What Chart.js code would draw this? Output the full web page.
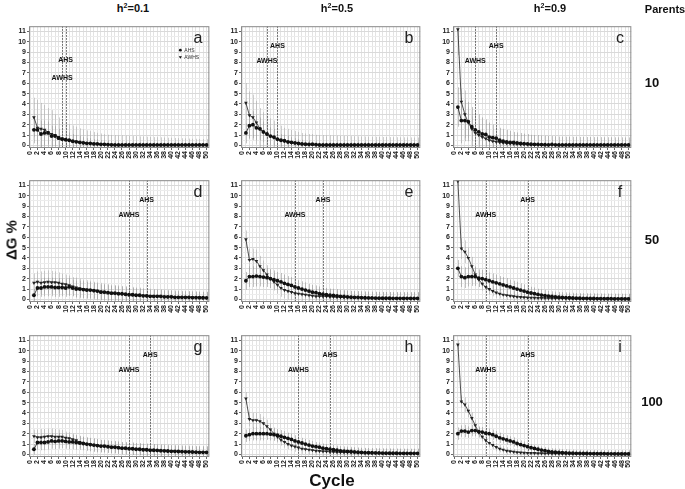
<!DOCTYPE html>
<html>
<head>
<meta charset="utf-8">
<script src="https://cdn.jsdelivr.net/npm/chart.js@4"></script>
<style>
body { margin: 0; width: 685px; height: 489px; position: relative; overflow: hidden; background: #fff; font-family: "Liberation Sans", Arial, sans-serif; color: #111; }
canvas { position: absolute; }
.t { position: absolute; transform: translate(-50%, -50%); white-space: nowrap; font-weight: bold; }
.head { font-size: 11px; }
.row { font-size: 13px; }
.letter { position: absolute; transform: translate(-50%, -50%); font-size: 16px; color: #222; }
sup { font-size: 7px; }
</style>
</head>
<body>
<script>
// x values
const cycles = [1,2,3,4,5,6,7,8,9,10,11,12,13,14,15,16,17,18,19,20,21,22,23,24,25,26,27,28,29,30,31,32,33,34,35,36,37,38,39,40,41,42,43,44,45,46,47,48,49,50];

const heritability = ["0.1", "0.5", "0.9"];
const parents = ["10", "50", "100"];
const letters = ["a", "b", "c", "d", "e", "f", "g", "h", "i"];

// cycle where each method reached its limit (dotted lines)
const awhsCycle = [9, 7, 6, 28, 15, 9, 28, 16, 9];
const ahsCycle = [10, 10, 12, 33, 23, 21, 34, 25, 21];

// a: h2=0.1, 10 parents
const aAhs = [1.5,1.5,1.1,1.2,1.2,0.9,0.9,0.7,0.6,0.55,0.5,0.4,0.35,0.3,0.25,0.2,0.2,0.15,0.15,0.1,0.1,0.08,0.06,0.05,0.05,0.05,0.05,0.05,0.05,0.05,0.05,0.05,0.05,0.05,0.05,0.05,0.05,0.05,0.05,0.05,0.05,0.05,0.05,0.05,0.05,0.05,0.05,0.05,0.05,0.05];
const aAwhs = [2.7,1.7,1.6,1.5,1.3,1.1,1.0,0.8,0.65,0.55,0.5,0.42,0.36,0.3,0.25,0.2,0.18,0.15,0.12,0.1,0.08,0.06,0.05,0.04,0.04,0.04,0.04,0.04,0.04,0.04,0.04,0.04,0.04,0.04,0.04,0.04,0.04,0.04,0.04,0.04,0.04,0.04,0.04,0.04,0.04,0.04,0.04,0.04,0.04,0.04];
const aAhsSd = [1.3,1.4,1.3,1.2,1.1,1.0,0.95,0.9,0.85,0.8,0.75,0.7,0.65,0.6,0.55,0.5,0.5,0.45,0.45,0.4,0.4,0.38,0.36,0.35,0.34,0.33,0.32,0.31,0.3,0.3,0.29,0.28,0.28,0.27,0.27,0.26,0.26,0.25,0.25,0.25,0.24,0.24,0.23,0.23,0.22,0.22,0.22,0.21,0.21,0.2];
const aAwhsSd = [1.9,2.7,2.5,2.4,2.3,2.3,2.0,1.9,1.8,1.6,1.55,1.5,1.45,1.35,1.3,1.25,1.2,1.15,1.1,1.05,1.0,0.97,0.95,0.94,0.93,0.92,0.9,0.88,0.86,0.85,0.83,0.82,0.8,0.78,0.76,0.75,0.74,0.72,0.7,0.7,0.68,0.66,0.65,0.64,0.62,0.6,0.6,0.58,0.57,0.56];

// b: h2=0.5, 10 parents
const bAhs = [1.2,1.9,2.0,1.7,1.6,1.3,1.1,0.9,0.8,0.6,0.5,0.45,0.35,0.3,0.25,0.2,0.15,0.12,0.1,0.1,0.08,0.05,0.04,0.04,0.04,0.04,0.04,0.04,0.04,0.04,0.04,0.04,0.04,0.04,0.04,0.04,0.04,0.04,0.04,0.04,0.04,0.04,0.04,0.04,0.04,0.04,0.04,0.04,0.04,0.04];
const bAwhs = [4.1,2.9,2.7,2.2,1.6,1.3,1.1,0.9,0.75,0.6,0.5,0.4,0.3,0.25,0.2,0.15,0.1,0.1,0.08,0.15,0.05,0.03,0.03,0.03,0.03,0.03,0.03,0.03,0.03,0.03,0.03,0.03,0.03,0.03,0.03,0.03,0.03,0.03,0.03,0.03,0.03,0.03,0.03,0.03,0.03,0.03,0.03,0.03,0.03,0.03];
const bAhsSd = [1.0,1.2,1.3,1.2,1.1,1.0,0.9,0.85,0.8,0.7,0.6,0.6,0.55,0.5,0.45,0.4,0.4,0.35,0.35,0.3,0.3,0.3,0.3,0.3,0.3,0.3,0.3,0.3,0.3,0.3,0.3,0.3,0.3,0.3,0.3,0.3,0.3,0.3,0.3,0.3,0.3,0.3,0.3,0.3,0.3,0.3,0.3,0.3,0.3,0.3];
const bAwhsSd = [1.9,2.3,2.2,2.1,2.0,1.9,1.8,1.7,1.65,1.5,1.4,1.3,1.3,1.25,1.2,1.15,1.1,1.05,1.02,0.95,0.97,0.96,0.95,0.94,0.93,0.92,0.9,0.89,0.88,0.87,0.86,0.85,0.84,0.83,0.82,0.81,0.8,0.8,0.79,0.78,0.78,0.77,0.76,0.76,0.75,0.75,0.74,0.74,0.73,0.73];

// c: h2=0.9, 10 parents
const cAhs = [3.7,2.4,2.4,2.3,1.8,1.5,1.3,1.1,1.05,0.8,0.75,0.7,0.5,0.4,0.35,0.3,0.3,0.25,0.2,0.18,0.15,0.12,0.1,0.1,0.08,0.07,0.06,0.1,0.06,0.05,0.05,0.05,0.05,0.05,0.05,0.05,0.05,0.05,0.05,0.05,0.05,0.05,0.05,0.05,0.05,0.05,0.05,0.05,0.05,0.05];
const cAwhs = [11.2,4.2,3.0,2.2,1.6,1.2,1.0,0.8,0.65,0.5,0.4,0.35,0.3,0.25,0.2,0.18,0.15,0.12,0.1,0.1,0.08,0.06,0.05,0.04,0.04,0.04,0.04,0.04,0.04,0.04,0.04,0.04,0.04,0.04,0.04,0.04,0.04,0.04,0.04,0.04,0.04,0.04,0.04,0.04,0.04,0.04,0.04,0.04,0.04,0.04];
const cAhsSd = [1.9,2.2,2.0,1.9,1.9,1.8,1.7,1.6,1.45,1.4,1.25,1.1,1.2,1.2,1.15,1.1,1.0,1.0,1.0,0.95,0.95,0.9,0.9,0.88,0.87,0.86,0.85,0.8,0.82,0.8,0.8,0.79,0.79,0.78,0.78,0.77,0.77,0.76,0.76,0.75,0.75,0.75,0.74,0.74,0.74,0.73,0.73,0.73,0.72,0.72];
const cAwhsSd = [2.5,1.3,2.3,1.5,1.2,1.0,0.9,0.8,0.7,0.6,0.55,0.5,0.45,0.4,0.4,0.35,0.35,0.3,0.3,0.3,0.3,0.3,0.3,0.3,0.3,0.3,0.3,0.3,0.3,0.3,0.3,0.3,0.3,0.3,0.3,0.3,0.3,0.3,0.3,0.3,0.3,0.3,0.3,0.3,0.3,0.3,0.3,0.3,0.3,0.3];

// d: h2=0.1, 50 parents
const dAhs = [0.4,1.1,1.1,1.2,1.2,1.2,1.15,1.15,1.15,1.1,1.2,1.1,1.0,1.0,0.95,0.9,0.9,0.85,0.8,0.7,0.7,0.65,0.6,0.6,0.55,0.55,0.5,0.45,0.45,0.4,0.4,0.35,0.35,0.3,0.3,0.3,0.3,0.25,0.25,0.25,0.2,0.2,0.2,0.2,0.2,0.18,0.18,0.17,0.16,0.15];
const dAwhs = [1.6,1.7,1.6,1.65,1.7,1.65,1.65,1.6,1.5,1.45,1.35,1.25,1.15,1.05,1.0,0.95,0.9,0.85,0.8,0.75,0.7,0.65,0.6,0.58,0.55,0.5,0.5,0.45,0.45,0.4,0.4,0.36,0.35,0.32,0.3,0.3,0.28,0.26,0.25,0.24,0.22,0.21,0.2,0.2,0.19,0.18,0.17,0.16,0.15,0.14];
const dAhsSd = [0.6,0.8,0.85,0.9,0.9,0.9,0.9,0.9,0.85,0.85,0.85,0.8,0.8,0.8,0.8,0.78,0.77,0.76,0.75,0.74,0.73,0.72,0.71,0.7,0.7,0.69,0.68,0.67,0.66,0.65,0.65,0.64,0.63,0.62,0.62,0.61,0.6,0.6,0.59,0.59,0.58,0.58,0.57,0.57,0.56,0.56,0.55,0.55,0.55,0.55];
const dAwhsSd = [0.9,1.0,1.1,1.1,1.1,1.1,1.05,1.0,1.0,0.95,0.95,0.9,0.95,0.95,0.9,0.9,0.9,0.85,0.85,0.85,0.84,0.83,0.82,0.81,0.8,0.8,0.78,0.77,0.76,0.75,0.74,0.73,0.72,0.71,0.7,0.69,0.68,0.67,0.66,0.65,0.65,0.64,0.63,0.63,0.62,0.62,0.61,0.61,0.6,0.6];

// e: h2=0.5, 50 parents
const eAhs = [1.8,2.2,2.2,2.25,2.2,2.15,2.1,2.0,1.9,1.8,1.7,1.55,1.45,1.35,1.2,1.1,1.0,0.9,0.8,0.7,0.65,0.55,0.5,0.45,0.4,0.38,0.35,0.3,0.28,0.25,0.22,0.2,0.2,0.18,0.16,0.15,0.14,0.13,0.12,0.12,0.11,0.11,0.1,0.1,0.1,0.1,0.1,0.1,0.1,0.1];
const eAwhs = [5.8,3.8,3.9,3.7,3.2,2.8,2.4,2.0,1.7,1.4,1.1,0.9,0.8,0.7,0.6,0.55,0.5,0.45,0.4,0.35,0.3,0.3,0.3,0.28,0.25,0.23,0.21,0.2,0.19,0.18,0.17,0.16,0.15,0.14,0.13,0.12,0.12,0.11,0.11,0.1,0.1,0.1,0.09,0.09,0.08,0.08,0.08,0.07,0.07,0.07];
const eAhsSd = [0.85,1.0,1.0,1.0,0.95,0.95,0.9,0.9,0.9,0.85,0.85,0.85,0.8,0.8,0.8,0.75,0.75,0.75,0.7,0.7,0.7,0.7,0.68,0.66,0.65,0.65,0.64,0.63,0.62,0.62,0.61,0.6,0.6,0.6,0.6,0.6,0.6,0.6,0.6,0.6,0.6,0.6,0.6,0.6,0.6,0.6,0.6,0.6,0.6,0.6];
const eAwhsSd = [0.85,1.1,1.0,1.1,1.0,0.95,0.9,0.9,0.85,0.85,0.85,0.8,0.8,0.75,0.75,0.7,0.7,0.7,0.68,0.68,0.67,0.66,0.66,0.65,0.65,0.65,0.65,0.64,0.64,0.64,0.63,0.63,0.63,0.62,0.62,0.62,0.62,0.62,0.61,0.61,0.61,0.61,0.6,0.6,0.6,0.6,0.6,0.6,0.6,0.6];

// f: h2=0.9, 50 parents
const fAhs = [3.0,2.2,2.1,2.2,2.2,2.2,2.05,2.0,1.9,1.8,1.7,1.6,1.5,1.4,1.3,1.2,1.1,1.0,0.9,0.8,0.7,0.62,0.55,0.48,0.42,0.37,0.32,0.28,0.25,0.22,0.2,0.18,0.16,0.14,0.12,0.11,0.1,0.1,0.09,0.09,0.08,0.08,0.07,0.07,0.07,0.06,0.06,0.06,0.05,0.05];
const fAwhs = [11.4,4.9,4.6,4.0,3.2,2.4,1.9,1.5,1.2,1.0,0.8,0.65,0.55,0.45,0.4,0.35,0.3,0.25,0.22,0.2,0.18,0.16,0.15,0.14,0.13,0.12,0.11,0.1,0.1,0.09,0.09,0.08,0.08,0.07,0.07,0.07,0.06,0.06,0.06,0.06,0.05,0.05,0.05,0.05,0.05,0.05,0.05,0.05,0.05,0.05];
const fAhsSd = [0.8,1.0,1.0,0.95,0.9,0.9,0.85,0.85,0.8,0.8,0.8,0.8,0.75,0.75,0.75,0.7,0.7,0.7,0.65,0.65,0.6,0.6,0.6,0.55,0.55,0.55,0.5,0.5,0.5,0.5,0.5,0.5,0.5,0.5,0.5,0.5,0.5,0.5,0.5,0.5,0.5,0.5,0.5,0.5,0.5,0.5,0.5,0.5,0.5,0.5];
const fAwhsSd = [0.4,1.0,1.1,1.0,0.9,0.8,0.7,0.65,0.6,0.55,0.5,0.5,0.45,0.45,0.45,0.45,0.45,0.45,0.45,0.45,0.45,0.45,0.45,0.45,0.45,0.45,0.45,0.45,0.45,0.45,0.45,0.45,0.45,0.45,0.45,0.45,0.45,0.45,0.45,0.45,0.45,0.45,0.45,0.45,0.45,0.45,0.45,0.45,0.45,0.45];

// g: h2=0.1, 100 parents
const gAhs = [0.5,1.15,1.15,1.15,1.2,1.3,1.25,1.3,1.3,1.25,1.2,1.2,1.15,1.1,1.05,1.0,0.95,0.9,0.85,0.8,0.8,0.75,0.7,0.7,0.65,0.6,0.6,0.55,0.55,0.5,0.5,0.45,0.45,0.4,0.4,0.38,0.36,0.35,0.33,0.3,0.3,0.28,0.27,0.25,0.25,0.23,0.22,0.2,0.2,0.2];
const gAwhs = [1.75,1.65,1.65,1.7,1.75,1.75,1.7,1.7,1.7,1.6,1.55,1.45,1.35,1.2,1.1,1.0,0.95,0.9,0.85,0.8,0.78,0.74,0.7,0.68,0.64,0.6,0.58,0.55,0.52,0.5,0.48,0.46,0.44,0.42,0.4,0.38,0.36,0.34,0.32,0.3,0.3,0.28,0.26,0.25,0.24,0.23,0.22,0.21,0.2,0.2];
const gAhsSd = [0.5,0.7,0.75,0.75,0.75,0.75,0.75,0.75,0.7,0.7,0.7,0.7,0.7,0.65,0.65,0.65,0.65,0.65,0.65,0.6,0.6,0.6,0.6,0.6,0.6,0.6,0.6,0.6,0.6,0.6,0.6,0.6,0.6,0.6,0.6,0.6,0.6,0.6,0.6,0.6,0.6,0.6,0.6,0.6,0.6,0.6,0.6,0.6,0.6,0.6];
const gAwhsSd = [0.65,0.75,0.8,0.75,0.75,0.75,0.75,0.7,0.65,0.6,0.6,0.55,0.55,0.6,0.6,0.6,0.6,0.6,0.6,0.6,0.58,0.58,0.57,0.57,0.56,0.56,0.55,0.55,0.55,0.55,0.54,0.54,0.53,0.53,0.52,0.52,0.52,0.51,0.51,0.5,0.5,0.5,0.5,0.5,0.5,0.5,0.5,0.5,0.5,0.5];

// h: h2=0.5, 100 parents
const hAhs = [1.8,1.9,2.0,2.0,2.0,2.0,2.0,1.95,1.9,1.85,1.75,1.65,1.55,1.45,1.3,1.2,1.1,1.0,0.9,0.8,0.75,0.7,0.6,0.55,0.5,0.45,0.4,0.35,0.32,0.3,0.28,0.25,0.22,0.2,0.18,0.17,0.16,0.15,0.14,0.13,0.12,0.12,0.11,0.11,0.1,0.1,0.1,0.1,0.1,0.1];
const hAwhs = [5.4,3.4,3.3,3.3,3.2,3.0,2.7,2.4,2.0,1.7,1.4,1.2,1.0,0.85,0.75,0.65,0.55,0.5,0.45,0.4,0.35,0.32,0.3,0.28,0.25,0.23,0.21,0.2,0.19,0.18,0.17,0.16,0.15,0.14,0.13,0.12,0.12,0.11,0.11,0.1,0.1,0.1,0.1,0.09,0.09,0.09,0.08,0.08,0.08,0.08];
const hAhsSd = [0.6,0.6,0.65,0.65,0.65,0.65,0.6,0.6,0.6,0.6,0.6,0.6,0.55,0.55,0.55,0.55,0.5,0.5,0.5,0.5,0.45,0.45,0.45,0.45,0.45,0.45,0.45,0.45,0.45,0.45,0.45,0.45,0.45,0.45,0.45,0.45,0.45,0.45,0.45,0.45,0.45,0.45,0.45,0.45,0.45,0.45,0.45,0.45,0.45,0.45];
const hAwhsSd = [0.6,0.7,0.7,0.7,0.7,0.65,0.65,0.6,0.6,0.55,0.55,0.55,0.5,0.5,0.5,0.5,0.5,0.45,0.45,0.45,0.45,0.45,0.45,0.45,0.45,0.45,0.45,0.45,0.45,0.45,0.45,0.45,0.45,0.45,0.45,0.45,0.45,0.45,0.45,0.45,0.45,0.45,0.45,0.45,0.45,0.45,0.45,0.45,0.45,0.45];

// i: h2=0.9, 100 parents
const iAhs = [2.0,2.25,2.25,2.15,2.3,2.3,2.2,2.15,2.05,2.0,1.9,1.75,1.6,1.5,1.4,1.3,1.2,1.05,0.95,0.85,0.75,0.65,0.58,0.5,0.42,0.36,0.3,0.25,0.22,0.2,0.17,0.15,0.13,0.12,0.1,0.1,0.09,0.09,0.08,0.08,0.07,0.07,0.07,0.06,0.06,0.06,0.05,0.05,0.05,0.05];
const iAwhs = [10.6,5.1,4.8,4.2,3.5,2.8,2.1,1.7,1.35,1.1,0.9,0.7,0.55,0.45,0.35,0.3,0.25,0.2,0.18,0.15,0.14,0.13,0.12,0.1,0.1,0.09,0.09,0.08,0.08,0.07,0.07,0.07,0.06,0.06,0.06,0.06,0.05,0.05,0.05,0.05,0.05,0.05,0.05,0.05,0.05,0.05,0.05,0.05,0.05,0.05];
const iAhsSd = [0.6,0.55,0.6,0.55,0.55,0.55,0.5,0.5,0.5,0.5,0.5,0.5,0.5,0.45,0.45,0.45,0.45,0.4,0.4,0.4,0.35,0.35,0.35,0.35,0.35,0.35,0.35,0.35,0.35,0.35,0.35,0.35,0.35,0.35,0.35,0.35,0.35,0.35,0.35,0.35,0.35,0.35,0.35,0.35,0.35,0.35,0.35,0.35,0.35,0.35];
const iAwhsSd = [0.45,0.6,0.7,0.6,0.55,0.5,0.5,0.45,0.45,0.4,0.4,0.4,0.35,0.35,0.35,0.3,0.3,0.3,0.3,0.3,0.3,0.3,0.3,0.3,0.3,0.3,0.3,0.3,0.3,0.3,0.3,0.3,0.3,0.3,0.3,0.3,0.3,0.3,0.3,0.3,0.3,0.3,0.3,0.3,0.3,0.3,0.3,0.3,0.3,0.3];

const panels = [
    [aAhs, aAwhs, aAhsSd, aAwhsSd],
    [bAhs, bAwhs, bAhsSd, bAwhsSd],
    [cAhs, cAwhs, cAhsSd, cAwhsSd],
    [dAhs, dAwhs, dAhsSd, dAwhsSd],
    [eAhs, eAwhs, eAhsSd, eAwhsSd],
    [fAhs, fAwhs, fAhsSd, fAwhsSd],
    [gAhs, gAwhs, gAhsSd, gAwhsSd],
    [hAhs, hAwhs, hAhsSd, hAwhsSd],
    [iAhs, iAwhs, iAhsSd, iAwhsSd]
];

// layout (plot area of every panel, px)
const colLeft = [29, 241, 453];
const colWidth = [184, 183, 182];
const rowTop = [23, 177, 332];
const plotH = 125;
const AXW = 16, AXH = 16, PADT = 2, PADR = 3;
const FONT = '"Liberation Sans", Arial, sans-serif';

function addText(html, x, y, cls, extra) {
    const d = document.createElement("div");
    d.className = cls;
    d.innerHTML = html;
    d.style.left = x + "px";
    d.style.top = y + "px";
    if (extra) Object.assign(d.style, extra);
    document.body.appendChild(d);
}

// overlay: error bars, limit lines, frame, legend
function overlay(k) {
    return {
        id: "overlay" + k,
        beforeDatasetsDraw(chart) {
            const { ctx, chartArea: a, scales: { x, y } } = chart;
            ctx.save();
            ctx.beginPath();
            ctx.rect(a.left, a.top, a.right - a.left, a.bottom - a.top);
            ctx.clip();
            ctx.lineWidth = 1;
            chart.data.datasets.forEach((ds, i) => {
                ctx.strokeStyle = i === 0 ? "rgba(120,120,120,0.45)" : "rgba(160,160,160,0.5)";
                const meta = chart.getDatasetMeta(i);
                meta.data.forEach((pt, j) => {
                    const m = ds.data[j].y, s = ds.sd[j];
                    const px = Math.round(pt.x) + 0.5;
                    ctx.beginPath();
                    ctx.moveTo(px, y.getPixelForValue(m - s));
                    ctx.lineTo(px, y.getPixelForValue(m + s));
                    ctx.stroke();
                });
            });
            // dotted limit lines
            ctx.strokeStyle = "#555";
            ctx.setLineDash([1.5, 1.5]);
            [awhsCycle[k], ahsCycle[k]].forEach(c => {
                const px = Math.round(x.getPixelForValue(c)) + 0.5;
                ctx.beginPath();
                ctx.moveTo(px, a.top);
                ctx.lineTo(px, a.bottom);
                ctx.stroke();
            });
            ctx.restore();
        },
        afterDraw(chart) {
            const { ctx, chartArea: a, scales: { x, y } } = chart;
            ctx.save();
            ctx.strokeStyle = "#8a8a8a";
            ctx.lineWidth = 1;
            ctx.strokeRect(a.left + 0.5, a.top + 0.5, a.right - a.left - 1, a.bottom - a.top - 1);
            ctx.fillStyle = "#111";
            ctx.font = "bold 7px " + FONT;
            ctx.textAlign = "center";
            ctx.textBaseline = "middle";
            const ahsY = k === 0 ? 8.2 : 9.6, awhsY = k === 0 ? 6.5 : 8.1;
            ctx.fillText("AHS", x.getPixelForValue(ahsCycle[k]), y.getPixelForValue(ahsY));
            ctx.fillText("AWHS", x.getPixelForValue(awhsCycle[k]), y.getPixelForValue(awhsY));
            if (k === 0) {
                // small legend in the first panel
                const lx = a.right - 29, ly = a.top + 24;
                ctx.beginPath();
                ctx.arc(lx, ly, 1.4, 0, Math.PI * 2);
                ctx.fill();
                ctx.beginPath();
                ctx.moveTo(lx - 1.6, ly + 6);
                ctx.lineTo(lx + 1.6, ly + 6);
                ctx.lineTo(lx, ly + 8.6);
                ctx.closePath();
                ctx.fill();
                ctx.font = "5px " + FONT;
                ctx.textAlign = "left";
                ctx.fillStyle = "#333";
                ctx.fillText("AHS", lx + 4, ly);
                ctx.fillText("AWHS", lx + 4, ly + 7);
            }
            ctx.restore();
        }
    };
}

panels.forEach((p, k) => {
    const col = k % 3, row = Math.floor(k / 3);
    const L = colLeft[col], T = rowTop[row], W = colWidth[col];
    const cv = document.createElement("canvas");
    cv.width = W + AXW + PADR;
    cv.height = plotH + PADT + AXH;
    cv.style.left = (L - AXW) + "px";
    cv.style.top = (T - PADT) + "px";
    document.body.appendChild(cv);

    new Chart(cv, {
        type: "line",
        data: {
            datasets: [{
                label: "AHS",
                data: cycles.map((c, j) => ({ x: c, y: p[0][j] })),
                sd: p[2],
                borderColor: "#111",
                backgroundColor: "#111",
                borderWidth: 0.8,
                pointStyle: "circle",
                pointRadius: 1.9,
                pointBorderWidth: 0
            }, {
                label: "AWHS",
                data: cycles.map((c, j) => ({ x: c, y: p[1][j] })),
                sd: p[3],
                borderColor: "#222",
                backgroundColor: "#222",
                borderWidth: 0.8,
                pointStyle: "triangle",
                rotation: 180,
                pointRadius: 2.1,
                pointBorderWidth: 0
            }]
        },
        options: {
            responsive: false,
            animation: false,
            devicePixelRatio: 1,
            layout: { padding: { top: PADT, right: PADR, left: 0, bottom: 0 } },
            plugins: { legend: { display: false }, tooltip: { enabled: false } },
            scales: {
                x: {
                    type: "linear",
                    min: -0.4,
                    max: 50.8,
                    afterFit(s) { s.height = AXH; },
                    border: { display: false },
                    grid: {
                        color: "#e3e3e3",
                        tickLength: 2,
                        tickColor: c => (c.tick && Number.isInteger(c.tick.value) && c.tick.value % 2 === 0) ? "#666" : "rgba(0,0,0,0)"
                    },
                    ticks: {
                        stepSize: 1,
                        includeBounds: false,
                        autoSkip: false,
                        minRotation: 90,
                        maxRotation: 90,
                        padding: 1,
                        color: "#222",
                        font: { family: FONT, size: 7, weight: "bold" },
                        callback: v => (Number.isInteger(v) && v % 2 === 0) ? String(v) : ""
                    }
                },
                y: {
                    min: -0.25,
                    max: 11.5,
                    afterFit(s) { s.width = AXW; },
                    border: { display: false },
                    grid: {
                        color: c => (c.tick && Number.isInteger(c.tick.value)) ? "#d9d9d9" : "#ececec",
                        tickLength: 2,
                        tickColor: c => (c.tick && Number.isInteger(c.tick.value)) ? "#666" : "rgba(0,0,0,0)"
                    },
                    ticks: {
                        stepSize: 0.5,
                        includeBounds: false,
                        autoSkip: false,
                        padding: 1,
                        color: "#222",
                        font: { family: FONT, size: 7, weight: "bold" },
                        callback: v => Number.isInteger(v) ? String(v) : ""
                    }
                }
            }
        },
        plugins: [overlay(k)]
    });

    addText(letters[k], L + W - 15, T + 15, "letter");
});

// column and row headers
const headX = [133, 337, 550];
heritability.forEach((h, i) => addText("h<sup>2</sup>=" + h, headX[i], 8, "t head"));
addText("Parents", 665, 9, "t head");
const rowLabelY = [82, 239, 401];
parents.forEach((p, i) => addText(p, 652, rowLabelY[i], "t row"));
addText("ΔG %", 11, 240, "t", { fontSize: "15px", transform: "translate(-50%,-50%) rotate(-90deg)" });
addText("Cycle", 332, 481, "t", { fontSize: "17px" });
</script>
</body>
</html>
